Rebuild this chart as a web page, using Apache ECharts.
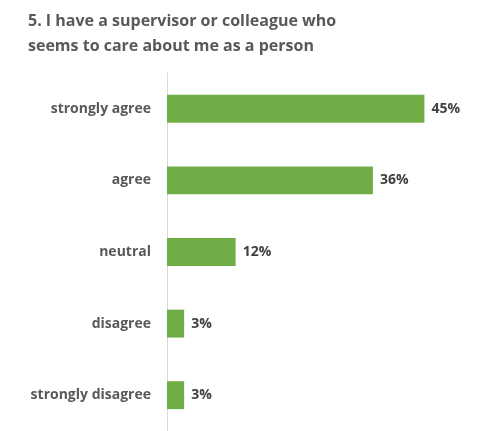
<!DOCTYPE html>
<html>
<head>
<meta charset="utf-8">
<script src="https://cdn.jsdelivr.net/npm/echarts@6/dist/echarts.min.js"></script>
<style>
  html, body { margin: 0; padding: 0; background: #fff; }
  #chart { width: 481px; height: 431px; }
</style>
</head>
<body>
<div id="chart"></div>
<script>
// Survey responses, listed top to bottom
const categories = ['strongly agree', 'agree', 'neutral', 'disagree', 'strongly disagree'];
const percents = [45, 36, 12, 3, 3];

const chart = echarts.init(document.getElementById('chart'), null, { renderer: 'canvas' });

chart.setOption({
  animation: false,
  backgroundColor: '#ffffff',
  title: {
    text: '5. I have a supervisor or colleague who\nseems to care about me as a person',
    left: 23,
    top: 4,
    textStyle: {
      fontFamily: 'Open Sans',
      fontWeight: 'bold',
      fontSize: 16,
      lineHeight: 25,
      color: '#595959'
    }
  },
  grid: {
    left: 167,
    right: 28,
    top: 73,
    bottom: -2,
    containLabel: false
  },
  xAxis: {
    type: 'value',
    min: 0,
    max: 50,
    show: false
  },
  yAxis: {
    type: 'category',
    data: categories,
    inverse: true,
    axisLine: { show: true, lineStyle: { color: '#d9d9d9', width: 1 } },
    axisTick: { show: false },
    axisLabel: {
      margin: 16,
      fontFamily: 'Open Sans',
      fontWeight: 'bold',
      fontSize: 14,
      color: '#595959'
    }
  },
  series: [{
    type: 'bar',
    data: percents,
    barCategoryGap: '61%',
    itemStyle: { color: '#70ad47' },
    label: {
      show: true,
      position: 'right',
      distance: 7,
      formatter: p => p.value + '%',
      fontFamily: 'Open Sans',
      fontWeight: 'bold',
      fontSize: 14,
      color: '#404040'
    }
  }]
});
</script>
</body>
</html>
